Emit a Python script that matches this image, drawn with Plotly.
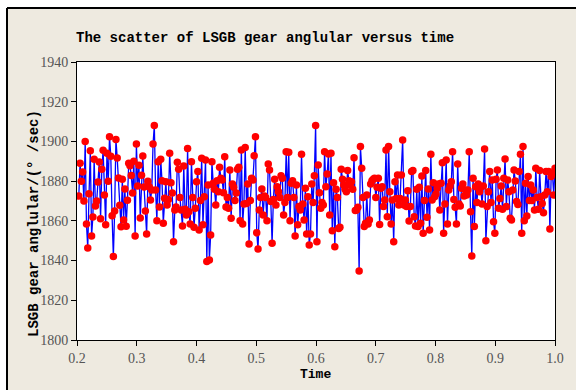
import numpy as np
import plotly.graph_objects as go

# Angular speed readings (deg/sec), read left-to-right from the reference
seg1 = [1872.5, 1889, 1880, 1884.6, 1870, 1900, 1858.4, 1846.3, 1873.6, 1895.3, 1852.4, 1862, 1891, 1867.5,
        1870, 1879.6, 1889.6, 1861, 1886, 1895.6, 1873, 1858, 1894, 1880, 1902.4, 1892.5, 1862.6, 1842, 1865,
        1901, 1891.7, 1881.6, 1867.8, 1857, 1881, 1860.4, 1876, 1857.3, 1870.4, 1889, 1887.7, 1882.8, 1874,
        1890, 1852.4, 1898.7, 1877.5, 1888, 1861.5, 1883, 1892.6, 1877, 1865, 1853.4, 1880]
seg2 = [1877.2, 1870.5, 1875.5, 1898.7, 1908, 1875.5, 1860, 1889.8, 1867, 1891, 1880.2, 1858.8, 1871.4, 1879.7,
        1868, 1870.8, 1894, 1879.2, 1874, 1849.5, 1865.5, 1867, 1889.5, 1886, 1871.8, 1865.5, 1857.4, 1887.6,
        1865.8, 1863, 1896.5, 1864.6, 1858.4, 1889.8, 1871.8, 1856.8, 1866.3, 1879.7, 1884.8, 1855.4, 1870.2,
        1891.5, 1858, 1872.2, 1890.6, 1839.5, 1878, 1840.3, 1852.9, 1889.8, 1878.9, 1875.9, 1868, 1880.2,
        1874.7, 1887, 1881.4, 1880.6, 1874.2, 1892.3, 1867]
seg3 = [1871.8, 1866.3, 1885.6, 1861.3, 1878.6, 1876.9, 1870.2, 1874, 1886, 1887, 1860, 1895.7, 1858.4, 1868.5,
        1897, 1868.8, 1878.6, 1848.4, 1870.2, 1881.4, 1880.6, 1892.8, 1902.4, 1854, 1845.8, 1865.5, 1871.8,
        1876, 1863, 1872.5, 1871.8, 1860, 1888.6, 1885.6, 1869.7, 1848.7, 1870.8, 1881, 1868, 1877.2, 1874.7,
        1871.8, 1882.7, 1881.4, 1863, 1869.2, 1894.8, 1871.8, 1894.5, 1860, 1878.9, 1880.2, 1871.8, 1852.4,
        1878, 1858, 1867.2, 1865.5, 1893.5, 1868.5, 1860.4, 1876.4, 1853.4, 1872.2, 1847.8]
seg4 = [1853.4, 1878.6, 1869.2, 1882.7, 1908, 1849.5, 1888.1, 1874.2, 1866.3, 1869.2, 1868, 1894.8, 1877.2,
        1883.6, 1893.7, 1863, 1894, 1855, 1879.2, 1847, 1875.9, 1871.8, 1856.2, 1856.8, 1886, 1881, 1878,
        1875.9, 1874.7, 1885.3, 1880.2, 1878, 1879.7, 1875.9, 1891.8, 1865.2, 1865.5, 1866.8, 1834.8, 1897.4,
        1886.5, 1871.8, 1857.1, 1858.8, 1873, 1858.4, 1860.4, 1878.6, 1880.2, 1880.9, 1881.4, 1871.8, 1876.9,
        1881.4, 1858.2, 1876.4, 1877.2, 1867.2, 1870.5, 1895.7, 1862.1, 1897.4, 1874.7, 1858.4, 1870.5,
        1849.5, 1879.7]
seg5 = [1871.3, 1883.1, 1868, 1871.3, 1883.1, 1900.7, 1868, 1870.5, 1867.2, 1875.2, 1859.9, 1867.2, 1884.8,
        1885.3, 1862.1, 1857.4, 1875.9, 1857.1, 1876.9, 1858.8, 1882.6, 1853.7, 1870.2, 1885.3, 1861.8, 1876,
        1855.4, 1893.5, 1870.5, 1879.2, 1872.2, 1873.5, 1876.4, 1878.6, 1865.5, 1878.9, 1889.3, 1853.7, 1868.5,
        1890.6, 1858.4, 1875.5, 1877.6, 1879.7, 1894.8, 1870.8, 1866.8, 1858.4, 1888.6, 1868.5, 1867.5, 1876.4,
        1878.6, 1872.5, 1875.5, 1873, 1875.5, 1894.8, 1864.6, 1842.3, 1881.4, 1857.1, 1877.2, 1869.2]
seg6 = [1878.6, 1874.7, 1877.2, 1868.5, 1877.6, 1896.2, 1850, 1867.2, 1874.7, 1884.8, 1869.2, 1880.6, 1859.6,
        1853.7, 1880.9, 1885.6, 1866.3, 1871.3, 1877.6, 1865.8, 1881.4, 1891.2, 1867.2, 1880.6, 1874.7, 1861.3,
        1860.4, 1875.5, 1885.6, 1880.1, 1869.7, 1868.3, 1884.8, 1893.5, 1853.7, 1897.4, 1860, 1878.9, 1862.5,
        1882.3, 1870.2, 1878, 1870.2, 1875.5, 1865.5, 1886.5, 1871.8, 1865.8, 1885.3, 1872.2, 1868.8, 1864.1,
        1873, 1884.8, 1874.7, 1884.8, 1855.9, 1882.3, 1883.6, 1873, 1886.5]

speed = seg1 + seg2 + seg3 + seg4 + seg5 + seg6
t_start, t_end = 0.203, 1.0
time = np.linspace(t_start, t_end, len(speed))

x_ticks = [0.2, 0.3, 0.4, 0.5, 0.6, 0.7, 0.8, 0.9, 1.0]
x_ticklabels = ["0.2", "0.3", "0.4", "0.5", "0.6", "0.7", "0.8", "0.9", "1.0"]
y_ticks = [1800, 1820, 1840, 1860, 1880, 1900, 1920, 1940]

BG = "#EEEAE0"
mono = "Liberation Mono, Courier New, monospace"
serif = "Liberation Serif, Times New Roman, serif"

fig = go.Figure()
fig.add_trace(go.Scatter(
    x=time, y=speed, mode="lines+markers",
    line=dict(color="#0000FF", width=1.3),
    marker=dict(color="#FF0000", size=7.5, line=dict(width=0)),
    showlegend=False,
))

W, H = 576, 390
L, R, T, B = 77, 21, 62, 50
pw, ph = W - L - R, H - T - B

def px(xp):
    return (xp - L) / pw

def py(yp):
    return (H - B - yp) / ph

fig.update_layout(
    width=W, height=H,
    margin=dict(l=L, r=R, t=T, b=B),
    paper_bgcolor=BG, plot_bgcolor="white",
    xaxis=dict(range=[0.2, 1.0], tickvals=x_ticks, ticktext=x_ticklabels,
               showgrid=False, zeroline=False, showline=True, linecolor="black", linewidth=1,
               mirror=True, ticks="outside", ticklen=5, tickcolor="black",
               tickfont=dict(family=serif, size=14, color="#555555")),
    yaxis=dict(range=[1800, 1940], tickvals=y_ticks,
               showgrid=False, zeroline=False, showline=True, linecolor="black", linewidth=1,
               mirror=True, ticks="outside", ticklen=5, tickcolor="black",
               tickfont=dict(family=serif, size=14, color="#555555")),
    shapes=[
        dict(type="rect", xref="paper", yref="paper", x0=px(-5), x1=px(7), y0=py(400), y1=py(-5),
             fillcolor="white", line=dict(width=0), layer="below"),
        dict(type="rect", xref="paper", yref="paper", x0=px(-5), x1=px(585), y0=py(8), y1=py(-5),
             fillcolor="white", line=dict(width=0), layer="below"),
        dict(type="line", xref="paper", yref="paper", x0=px(7), x1=px(7), y0=py(400), y1=py(8),
             line=dict(color="black", width=2)),
        dict(type="line", xref="paper", yref="paper", x0=px(7), x1=px(585), y0=py(8), y1=py(8),
             line=dict(color="black", width=2)),
    ],
    annotations=[
        dict(text="<b>The scatter of LSGB gear anglular versus time</b>", xref="paper", yref="paper",
             x=px(265), y=py(38), showarrow=False, xanchor="center", yanchor="middle",
             font=dict(family=mono, size=14, color="black")),
        dict(text="<b>LSGB gear anglular/(° /sec)</b>", xref="paper", yref="paper",
             x=px(34), y=py(224), showarrow=False, xanchor="center", yanchor="middle", textangle=-90,
             font=dict(family=mono, size=14, color="black")),
        dict(text="<b>Time</b>", xref="paper", yref="paper",
             x=px(315), y=py(366), showarrow=False, xanchor="center", yanchor="top",
             font=dict(family=mono, size=13, color="black"), borderpad=0),
    ],
)

fig.write_html("out.html")
